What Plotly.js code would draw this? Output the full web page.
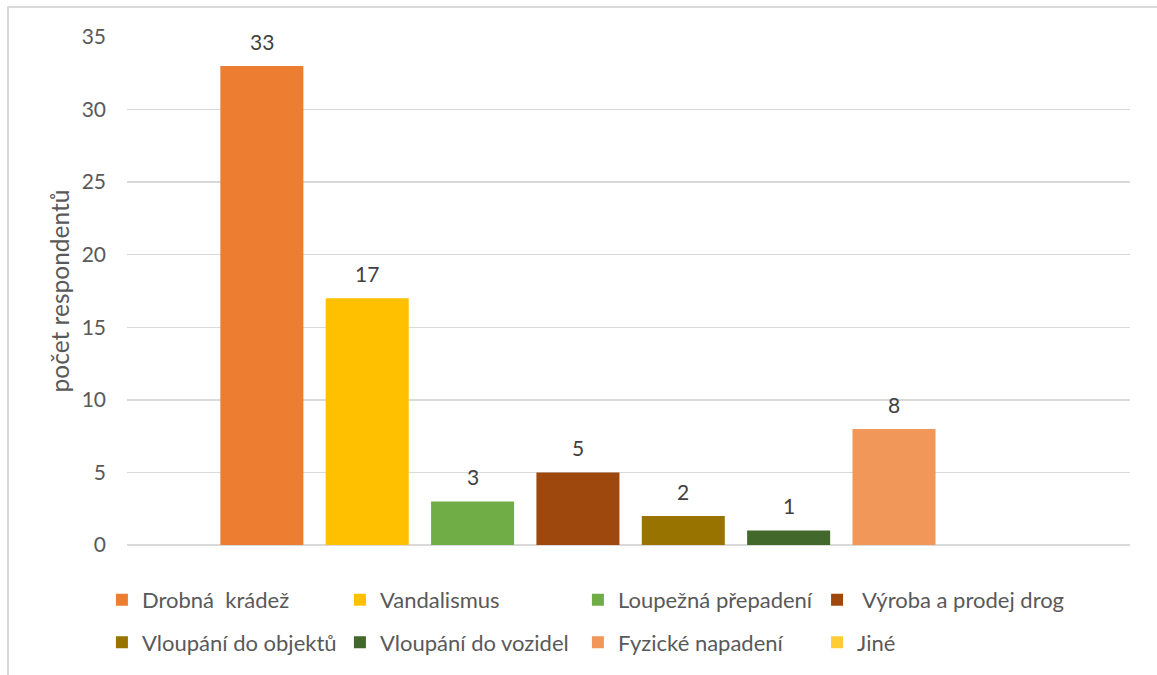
<!DOCTYPE html>
<html>
<head>
<meta charset="utf-8">
<script src="https://cdn.plot.ly/plotly-3.0.1.min.js"></script>
<style>
html,body{margin:0;padding:0;background:#fff;}
#wrap{position:relative;width:1157px;height:675px;overflow:hidden;}
#chart{width:1157px;height:675px;}
#frame{position:absolute;left:7px;top:6px;width:1300px;height:800px;border:2px solid #d9d9d9;pointer-events:none;}
</style>
</head>
<body>
<div id="wrap"><div id="chart"></div><div id="frame"></div></div>
<script>
const seriesNames = ["Drobná  krádež", "Vandalismus", "Loupežná přepadení", " Výroba a prodej drog",
  "Vloupání do objektů", "Vloupání do vozidel", "Fyzické napadení", "Jiné"];
const seriesValues = [33, 17, 3, 5, 2, 1, 8, null];
const seriesColors = ["#ED7D31", "#FFC000", "#70AD47", "#9E480E", "#997300", "#43682B", "#F1975A", "#FFCD33"];
const yTitle = "počet respondentů";

const FONT = "Lato, 'Open Sans', sans-serif";
const FS = 21;
// legend slot for each series: rows of 4, last column in its own legend so text is not clipped
const legendIds = ["legend", "legend", "legend", "legend3", "legend2", "legend2", "legend2", "legend4"];
const traces = seriesNames.map((n, i) => ({
  type: "bar",
  name: n,
  x: [n],
  y: [seriesValues[i]],
  marker: {color: seriesColors[i]},
  legend: legendIds[i],
  hoverinfo: "skip"
}));

const annotations = [];
seriesNames.forEach((n, i) => {
  if (seriesValues[i] !== null) {
    annotations.push({
      x: n, y: seriesValues[i], xref: "x", yref: "y",
      text: String(seriesValues[i]), showarrow: false,
      yanchor: "bottom", yshift: 10,
      font: {family: FONT, size: FS, color: "#404040"}
    });
  }
});

const legendCommon = {
  orientation: "h", xanchor: "left", yanchor: "middle",
  entrywidth: 193, entrywidthmode: "pixels",
  font: {family: FONT, size: 22, color: "#595959"},
  bgcolor: "rgba(0,0,0,0)", traceorder: "normal"
};
const legendLast = {
  orientation: "h", xanchor: "left", yanchor: "middle",
  font: {family: FONT, size: 22, color: "#595959"},
  bgcolor: "rgba(0,0,0,0)"
};

const layout = {
  width: 1157, height: 675,
  margin: {l: 127, r: 27, t: 37, b: 130},
  paper_bgcolor: "#fff", plot_bgcolor: "#fff",
  font: {family: FONT, size: FS, color: "#595959"},
  barmode: "overlay",
  bargap: 0.212,
  showlegend: true,
  xaxis: {
    type: "category",
    categoryorder: "array", categoryarray: seriesNames,
    range: [-1.28, 8.24],
    showticklabels: false, showgrid: false, zeroline: false,
    showline: false, ticks: "", fixedrange: true
  },
  yaxis: {
    range: [0, 35], dtick: 5, tick0: 0,
    showgrid: true, gridcolor: "#d9d9d9", gridwidth: 1.5,
    zeroline: true, zerolinecolor: "#d9d9d9", zerolinewidth: 1.5,
    showline: false, ticks: "",
    ticklabelstandoff: 20,
    tickfont: {family: FONT, size: FS, color: "#595959"},
    title: {text: yTitle, font: {family: FONT, size: 24.5, color: "#595959"}, standoff: 5},
    fixedrange: true
  },
  legend: Object.assign({x: -0.025, y: -0.108}, legendCommon),
  legend2: Object.assign({x: -0.025, y: -0.192}, legendCommon),
  legend3: Object.assign({x: 0.688, y: -0.108}, legendLast),
  legend4: Object.assign({x: 0.688, y: -0.192}, legendLast),
  annotations: annotations
};

Plotly.newPlot("chart", traces, layout, {displayModeBar: false, staticPlot: true});
</script>
</body>
</html>
